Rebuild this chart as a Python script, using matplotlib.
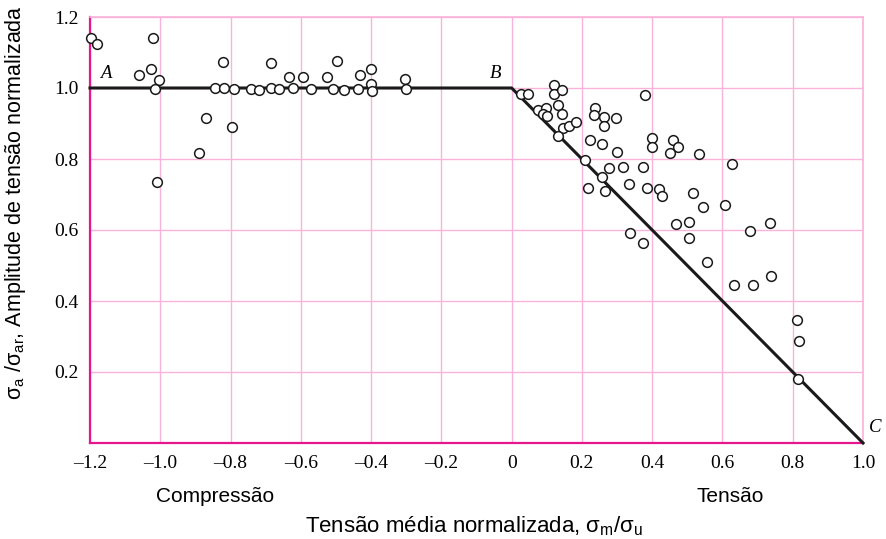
import matplotlib
matplotlib.use("Agg")
import matplotlib.pyplot as plt
from matplotlib.ticker import FixedLocator, FuncFormatter

# Data: normalized mean stress (x) and normalized amplitude (y)
mean_stress = [
    -1.198, -1.18, -1.02, -1.06, -1.027, -1.004, -1.016, -1.01, -0.87, -0.89,
    -0.845, -0.822, -0.82, -0.79, -0.795, -0.742, -0.72, -0.686, -0.686, -0.663,
    -0.634, -0.623, -0.595, -0.572, -0.526, -0.498, -0.509, -0.478, -0.438, -0.432,
    -0.40, -0.40, -0.398, -0.304, -0.30,
    0.028, 0.046, 0.12, 0.12, 0.142, 0.074, 0.097, 0.088, 0.102, 0.133,
    0.142, 0.146, 0.162, 0.182, 0.131, 0.238, 0.235, 0.264, 0.264, 0.298,
    0.38, 0.224, 0.256, 0.299, 0.21, 0.40, 0.40, 0.46, 0.473, 0.45,
    0.532, 0.276, 0.316, 0.373, 0.256, 0.216, 0.265, 0.333, 0.384, 0.418,
    0.427, 0.515, 0.467, 0.504, 0.506, 0.338, 0.375, 0.546, 0.606, 0.626,
    0.555, 0.677, 0.734, 0.632, 0.686, 0.737, 0.811, 0.819, 0.816,
]
amplitude = [
    1.141, 1.124, 1.14, 1.037, 1.054, 1.023, 0.997, 0.735, 0.915, 0.817,
    1.0, 1.073, 1.0, 0.997, 0.89, 0.997, 0.994, 1.07, 1.0, 0.997,
    1.031, 1.0, 1.031, 0.997, 1.031, 1.076, 0.997, 0.994, 0.997, 1.037,
    1.054, 1.011, 0.992, 1.025, 0.997,
    0.983, 0.983, 1.008, 0.983, 0.994, 0.938, 0.944, 0.927, 0.921, 0.952,
    0.927, 0.887, 0.893, 0.904, 0.865, 0.944, 0.924, 0.918, 0.893, 0.915,
    0.98, 0.854, 0.842, 0.82, 0.797, 0.859, 0.834, 0.854, 0.834, 0.817,
    0.814, 0.775, 0.777, 0.777, 0.749, 0.718, 0.71, 0.73, 0.718, 0.715,
    0.696, 0.704, 0.617, 0.622, 0.577, 0.592, 0.563, 0.665, 0.67, 0.786,
    0.51, 0.597, 0.62, 0.445, 0.445, 0.47, 0.346, 0.287, 0.18,
]

# Criterion line A-B-C
line_x = [-1.2, 0.0, 1.0]
line_y = [1.0, 1.0, 0.0]
point_labels = ["A", "B", "C"]

x_ticks = [-1.2, -1.0, -0.8, -0.6, -0.4, -0.2, 0.0, 0.2, 0.4, 0.6, 0.8, 1.0]
y_ticks = [0.2, 0.4, 0.6, 0.8, 1.0, 1.2]

grid_col = "#f9b3da"
spine_col = "#e6168c"

fig = plt.figure(figsize=(8.86, 5.39), dpi=100)
ax = fig.add_axes([90 / 886, 1 - 443 / 539, (863 - 90) / 886, (443 - 17) / 539])

ax.set_xlim(-1.2, 1.0)
ax.set_ylim(0.0, 1.2)

ax.xaxis.set_major_locator(FixedLocator(x_ticks))
ax.yaxis.set_major_locator(FixedLocator(y_ticks))

def fmt_x(v, pos):
    if abs(v) < 1e-9:
        return "0"
    s = f"{abs(v):.1f}"
    return ("\u2013" + s) if v < 0 else s

ax.xaxis.set_major_formatter(FuncFormatter(fmt_x))
ax.yaxis.set_major_formatter(FuncFormatter(lambda v, p: f"{v:.1f}"))

ax.grid(True, color=grid_col, lw=1.0)
ax.set_axisbelow(True)
ax.tick_params(length=0, labelsize=14)
ax.tick_params(axis="x", pad=9)
ax.tick_params(axis="y", pad=8)
for lab in ax.get_xticklabels() + ax.get_yticklabels():
    lab.set_fontfamily("Liberation Serif")

for side in ["top", "right"]:
    ax.spines[side].set_color(grid_col)
    ax.spines[side].set_linewidth(1.2)
for side in ["left", "bottom"]:
    ax.spines[side].set_color(spine_col)
    ax.spines[side].set_linewidth(1.6)

ax.plot(line_x, line_y, color="#1a1a1a", lw=2.2, zorder=3, clip_on=False)
ax.plot(mean_stress, amplitude, "o", ms=7, mfc="white", mec="#1a1a1a",
        mew=1.1, zorder=4, clip_on=False)

ax.text(-1.155, 1.04, point_labels[0], fontfamily="Liberation Serif",
        style="italic", fontsize=13.5, ha="center", va="center")
ax.text(-0.045, 1.04, point_labels[1], fontfamily="Liberation Serif",
        style="italic", fontsize=13.5, ha="center", va="center")
ax.text(1.035, 0.045, point_labels[2], fontfamily="Liberation Serif",
        style="italic", fontsize=13.5, ha="center", va="center", clip_on=False)

ax.text(-0.845, -0.15, "Compressão", fontfamily="Liberation Sans", fontsize=15,
        ha="center", va="center")
ax.text(0.623, -0.15, "Tensão", fontfamily="Liberation Sans", fontsize=15,
        ha="center", va="center")

fig.text(474 / 886, 1 - 526 / 539,
         r"Tensão média normalizada, σ$_\mathregular{m}$/σ$_\mathregular{u}$",
         fontfamily="Liberation Sans", fontsize=16, ha="center", va="center")
fig.text(16 / 886, 1 - 203 / 539,
         r"σ$_\mathregular{a}$ /σ$_\mathregular{ar}$, Amplitude de tensão normalizada",
         fontfamily="Liberation Sans", fontsize=15.5, ha="center", va="center",
         rotation=90)

fig.savefig("out.png", dpi=100)
